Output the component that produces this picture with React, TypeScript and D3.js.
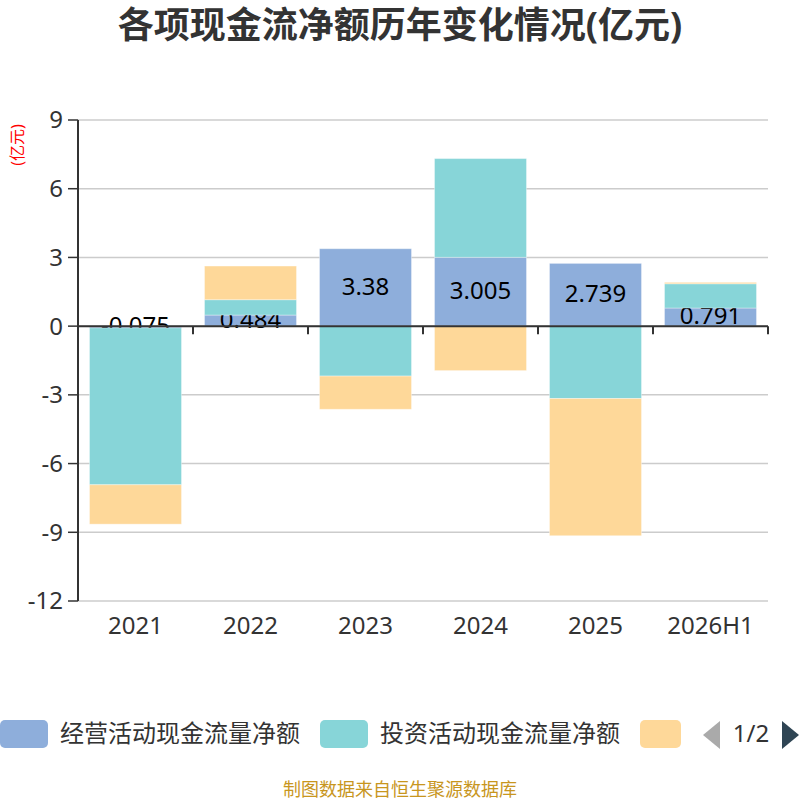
import * as React from 'react'
import * as d3 from 'd3'

const years = ['2021', '2022', '2023', '2024', '2025', '2026H1']
const operating = [-0.075, 0.484, 3.38, 3.005, 2.739, 0.791]
const investing = [-6.85, 0.67, -2.18, 4.31, -3.16, 1.06]
const financing = [-1.72, 1.47, -1.45, -1.94, -5.99, 0.06]
const seriesNames = ['经营活动现金流量净额', '投资活动现金流量净额', '筹资活动现金流量净额']
const colors = ['#8eaedb', '#87d5d8', '#fed899']
const yTicks = [9, 6, 3, 0, -3, -6, -9, -12]

const W = 800
const H = 800
const margin = { top: 120, right: 32, bottom: 199, left: 78 }
const font = '"Noto Sans", "Noto Sans CJK SC", sans-serif'

const App = () => {
  const innerW = W - margin.left - margin.right
  const innerH = H - margin.top - margin.bottom

  const x = d3.scaleBand().domain(years).range([0, innerW]).paddingInner(0.2).paddingOuter(0.1)
  const y = d3.scaleLinear().domain([-12, 9]).range([innerH, 0])

  const rows = years.map((yr, i) => ({ year: yr, op: operating[i], inv: investing[i], fin: financing[i] }))
  const stack = d3.stack<any>().keys(['op', 'inv', 'fin']).offset(d3.stackOffsetDiverging)
  const layers = stack(rows)

  const step = innerW / years.length

  const bars = (li: number) => (
    <g key={li} fill={colors[li]}>
      {layers[li].map((d, i) => {
        const y0 = y(Math.max(d[0], d[1]))
        const y1 = y(Math.min(d[0], d[1]))
        return (
          <rect key={i} x={x(years[i])} y={y0} width={x.bandwidth()} height={Math.max(0, y1 - y0)}
            stroke="#ffffff" strokeOpacity={0.35} strokeWidth={1} />
        )
      })}
    </g>
  )

  return (
    <svg width={W} height={H} style={{ position: 'absolute', left: 0, top: 0 }} fontFamily={font}>
      <text x={400} y={38} textAnchor="middle" fontSize={36} fontWeight="bold" fill="#333">
        各项现金流净额历年变化情况(亿元)
      </text>
      <text transform="translate(23,145) rotate(-90)" textAnchor="middle" fontSize={16} fill="#f00">
        (亿元)
      </text>
      <g transform={`translate(${margin.left},${margin.top})`}>
        {yTicks.map(t => (
          <g key={t}>
            <line x1={0} x2={innerW} y1={y(t)} y2={y(t)} stroke="#ccc" strokeWidth={1.5} />
            <line x1={-10} x2={0} y1={y(t)} y2={y(t)} stroke="#333" strokeWidth={1.5} />
            <text x={-15} y={y(t)} dy="0.35em" textAnchor="end" fontSize={24} fill="#333">{t}</text>
          </g>
        ))}
        {bars(0)}
        {layers[0].map((d, i) => (
          <text key={i} x={(x(years[i]) ?? 0) + x.bandwidth() / 2} y={(y(d[0]) + y(d[1])) / 2}
            dy="0.3em" textAnchor="middle" fontSize={24} fill="#000">
            {operating[i]}
          </text>
        ))}
        {bars(1)}
        {bars(2)}
        <line x1={0} x2={0} y1={0} y2={innerH} stroke="#333" strokeWidth={2} />
        <line x1={0} x2={innerW} y1={y(0)} y2={y(0)} stroke="#333" strokeWidth={2} />
        {d3.range(years.length + 1).map(i => (
          <line key={i} x1={i * step} x2={i * step} y1={y(0)} y2={y(0) + 8} stroke="#333" strokeWidth={2} />
        ))}
        {years.map(yr => (
          <text key={yr} x={(x(yr) ?? 0) + x.bandwidth() / 2} y={innerH + 25} dy="0.35em"
            textAnchor="middle" fontSize={24} fill="#333">{yr}</text>
        ))}
      </g>
      <g>
        {[0, 320, 640].map((lx, i) => (
          <g key={i}>
            <rect x={lx} y={720} width={i === 2 ? 41 : 48} height={28} rx={5} fill={colors[i]} />
            {i < 2 && (
              <text x={lx + 60} y={734} dy="0.35em" fontSize={24} fill="#333">{seriesNames[i]}</text>
            )}
          </g>
        ))}
        <rect x={681} y={715} width={10} height={40} fill="#fff" />
        <path d="M720,721 L703,735 L720,749 Z" fill="#aaa" />
        <text x={751} y={734} dy="0.35em" textAnchor="middle" fontSize={24} fill="#333">1/2</text>
        <path d="M782,721 L799,735 L782,749 Z" fill="#2f4554" />
      </g>
      <text x={400} y={796} textAnchor="middle" fontSize={18} fill="#c8961e">制图数据来自恒生聚源数据库</text>
    </svg>
  )
}

export default App
